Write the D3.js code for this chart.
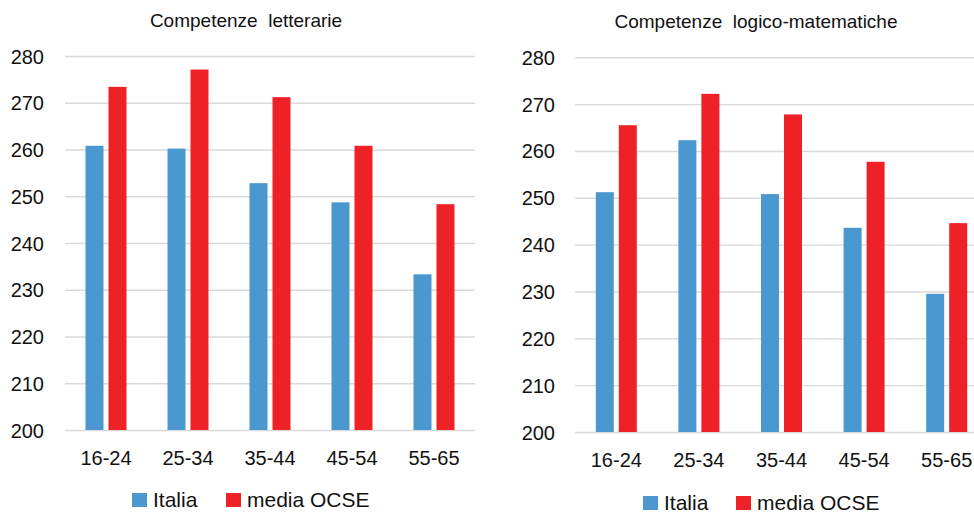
<!DOCTYPE html>
<html>
<head>
<meta charset="utf-8" />
<style>
body {
	margin: 0;
	background: #fff;
	font-family: "Liberation Sans", Arial, sans-serif;
}
svg {
	display: block;
}
.title {
	font-size: 19px;
	fill: #111;
	text-anchor: middle;
	white-space: pre;
}
.y-axis text {
	font-size: 20px;
	fill: #111;
}
.x-label {
	font-size: 20px;
	fill: #111;
	text-anchor: middle;
}
.legend-label {
	font-size: 21px;
	fill: #111;
}
</style>
</head>
<body>
<script src="https://cdn.jsdelivr.net/npm/d3@7"></script>
<script>
var categories = ["16-24", "25-34", "35-44", "45-54", "55-65"];
var seriesNames = ["Italia", "media OCSE"];
var seriesColors = ["#4b98d0", "#ee2226"];

var italiaLetter = [260.8, 260.2, 252.8, 248.7, 233.3];
var ocseLetter = [273.4, 277.1, 271.2, 260.8, 248.3];

var italiaMath = [251.2, 262.3, 250.8, 243.6, 229.5];
var ocseMath = [265.5, 272.2, 267.8, 257.7, 244.6];

var yTicks = [200, 210, 220, 230, 240, 250, 260, 270, 280];

var svg = d3.select("body").append("svg")
	.attr("width", 974)
	.attr("height", 513);

// one panel = one small bar chart
function drawPanel(p) {
	var g = svg.append("g");

	var x0 = d3.scaleBand()
		.domain(categories)
		.range([p.left, p.right]);

	var groupWidth = 41;
	var x1 = d3.scaleBand()
		.domain(seriesNames)
		.range([0, groupWidth])
		.paddingInner(0.217);

	var y = d3.scaleLinear()
		.domain([200, 280])
		.range([p.bottom, p.top]);

	// grid + tick labels
	var axis = g.append("g")
		.attr("class", "y-axis")
		.attr("transform", "translate(" + p.left + ",0)")
		.call(d3.axisLeft(y)
			.tickValues(yTicks)
			.tickSize(-(p.gridRight - p.left))
			.tickPadding(p.tickPad)
			.tickFormat(d3.format("d")));
	axis.select(".domain").remove();
	axis.selectAll(".tick line")
		.attr("stroke", "#d9d9d9")
		.attr("stroke-width", 1.4);
	axis.selectAll(".tick text")
		.attr("dy", "0.35em");

	var rows = categories.map(function (c, i) {
		return { cat: c, values: [p.a[i], p.b[i]] };
	});

	var groups = g.selectAll(".group")
		.data(rows)
		.enter().append("g")
		.attr("transform", function (d) {
			return "translate(" + (x0(d.cat) + (x0.bandwidth() - groupWidth) / 2) + ",0)";
		});

	groups.selectAll("rect")
		.data(function (d) {
			return d.values.map(function (v, j) { return { name: seriesNames[j], value: v, j: j }; });
		})
		.enter().append("rect")
		.attr("x", function (d) { return x1(d.name); })
		.attr("width", x1.bandwidth())
		.attr("y", function (d) { return y(d.value); })
		.attr("height", function (d) { return y(200) - y(d.value); })
		.attr("fill", function (d) { return seriesColors[d.j]; });

	g.selectAll(".x-label")
		.data(categories)
		.enter().append("text")
		.attr("class", "x-label")
		.attr("x", function (d) { return x0(d) + x0.bandwidth() / 2; })
		.attr("y", p.labelY)
		.text(function (d) { return d; });

	g.append("text")
		.attr("class", "title")
		.attr("x", p.titleX)
		.attr("y", p.titleY)
		.text(p.title);

	// legend
	var leg = g.append("g")
		.attr("transform", "translate(" + p.legX + "," + p.legY + ")");
	var offsets = [0, p.legGap];
	seriesNames.forEach(function (name, j) {
		leg.append("rect")
			.attr("x", offsets[j])
			.attr("y", -14)
			.attr("width", 15)
			.attr("height", 14)
			.attr("fill", seriesColors[j]);
		leg.append("text")
			.attr("class", "legend-label")
			.attr("x", offsets[j] + 21)
			.attr("y", 0)
			.text(name);
	});
}

drawPanel({
	title: "Competenze  letterarie",
	a: italiaLetter, b: ocseLetter,
	left: 65, right: 475, gridRight: 475,
	top: 56, bottom: 430,
	tickPad: 21,
	labelY: 465,
	titleX: 246, titleY: 27,
	legX: 132, legY: 507, legGap: 94
});

drawPanel({
	title: "Competenze  logico-matematiche",
	a: italiaMath, b: ocseMath,
	left: 575, right: 988, gridRight: 988,
	top: 57.3, bottom: 432,
	tickPad: 20,
	labelY: 467,
	titleX: 756, titleY: 28,
	legX: 643, legY: 510, legGap: 93
});
</script>
</body>
</html>
